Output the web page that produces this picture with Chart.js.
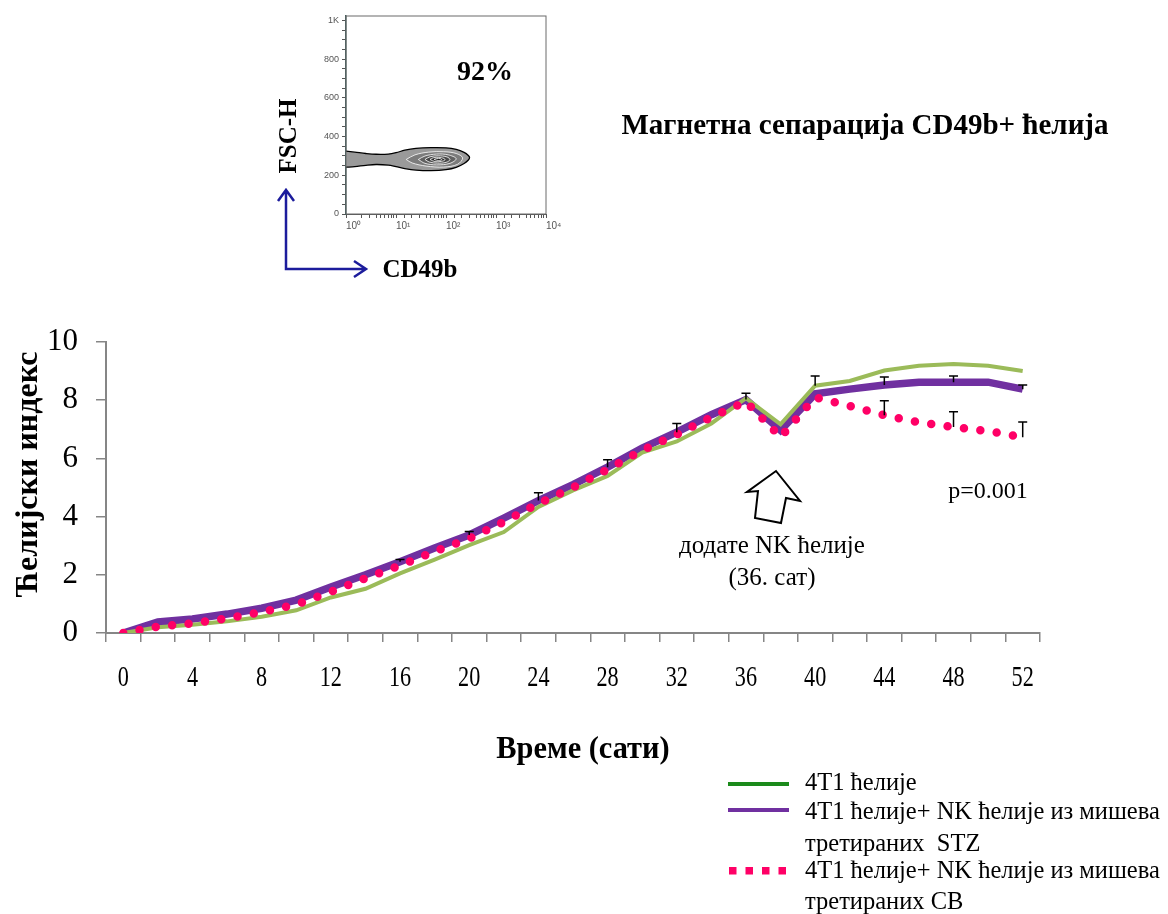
<!DOCTYPE html>
<html>
<head>
<meta charset="utf-8">
<script src="https://cdn.jsdelivr.net/npm/chart.js@4.4.1/dist/chart.umd.min.js"></script>
<style>
  html, body { margin: 0; padding: 0; background: #fff; }
  #wrap { position: relative; width: 1168px; height: 914px; }
  #main { position: absolute; left: 0; top: 0; }
  #inset { position: absolute; left: 290px; top: 0; }
</style>
</head>
<body>
<div id="wrap">
  <canvas id="main" width="1168" height="914"></canvas>
  <canvas id="inset" width="276" height="245"></canvas>
</div>
<script>
// time points (hours)
const hours = [0, 2, 4, 6, 8, 10, 12, 14, 16, 18, 20, 22, 24, 26, 28, 30, 32, 34, 36, 38, 40, 42, 44, 46, 48, 50, 52];

// cell index per series
const cells4T1 = [0, 0.2, 0.28, 0.4, 0.56, 0.78, 1.22, 1.52, 2.05, 2.52, 3.02, 3.47, 4.33, 4.9, 5.4, 6.2, 6.58, 7.2, 8.07, 7.17, 8.5, 8.66, 9.02, 9.18, 9.24, 9.18, 9.0];
const cellsSTZ = [0, 0.38, 0.48, 0.65, 0.85, 1.13, 1.58, 2.0, 2.45, 2.92, 3.37, 3.95, 4.55, 5.1, 5.7, 6.35, 6.9, 7.5, 8.02, 6.97, 8.22, 8.38, 8.52, 8.62, 8.62, 8.62, 8.38];
const cellsCB = [0, 0.22, 0.33, 0.5, 0.72, 0.98, 1.42, 1.88, 2.32, 2.8, 3.25, 3.82, 4.45, 5.0, 5.62, 6.28, 6.82, 7.42, 7.95, 6.73, 8.1, 7.8, 7.48, 7.24, 7.08, 6.94, 6.73];

// upper error bars (SD), null = none shown
const err4T1 = [null, null, null, null, null, null, null, null, null, null, null, null, null, null, null, null, null, null, null, null, 0.33, null, null, null, null, null, null];
const errSTZ = [null, null, null, null, null, null, null, null, 0.08, null, 0.12, null, 0.27, null, 0.25, null, 0.3, null, 0.22, null, null, null, 0.28, null, 0.21, null, 0.14];
const errCB = [null, null, null, null, null, null, null, null, null, null, null, null, null, null, null, null, null, null, null, null, null, null, 0.5, null, 0.52, null, 0.52];

const seriesNames = ['4T1 ћелије', '4T1 ћелије+ NK ћелије из мишева третираних  STZ', '4T1 ћелије+ NK ћелије из мишева третираних CB'];

// flow cytometry inset: contour outlines (CD49b, FSC-H)
const contourOuter = [[1, 325], [1.5, 320], [2.5, 313], [4, 309], [7, 310], [10, 317], [15, 330], [25, 339], [50, 343], [100, 342], [160, 334], [230, 319], [280, 303], [296, 292], [280, 279], [230, 261], [160, 241], [100, 229], [50, 224], [25, 227], [15, 235], [10, 245], [7, 253], [4, 256], [2.5, 252], [1.5, 245], [1, 242]];
const contourRing1 = [[16, 282], [24, 306], [45, 320], [90, 322], [160, 313], [215, 290], [170, 257], [90, 243], [40, 248], [21, 264], [16, 282]];
const contourRing2 = [[28, 282], [38, 300], [65, 310], [110, 306], [160, 286], [120, 262], [65, 254], [38, 262], [28, 282]];
const contourRing3 = [[38, 282], [48, 296], [70, 301], [105, 295], [120, 281], [100, 267], [68, 263], [46, 269], [38, 282]];
const contourRing4 = [[48, 282], [56, 291], [72, 293], [92, 287], [95, 279], [80, 272], [60, 271], [48, 282]];
const contourCore = [[58, 282], [65, 287], [78, 286], [82, 280], [70, 277], [58, 282]];

const serif = "'Liberation Serif', 'Times New Roman', serif";

const decorPlugin = {
  id: 'decor',
  afterDatasetsDraw(chart) {
    const ctx = chart.ctx;
    const xs = chart.scales.x, ys = chart.scales.y;
    ctx.save();
    ctx.strokeStyle = '#000';
    ctx.lineWidth = 1.5;
    chart.data.datasets.forEach(ds => {
      ds.err.forEach((e, i) => {
        if (e == null) return;
        const x = xs.getPixelForValue(i);
        const y0 = ys.getPixelForValue(ds.data[i]);
        const y1 = ys.getPixelForValue(ds.data[i] + e);
        ctx.beginPath();
        ctx.moveTo(x, y0); ctx.lineTo(x, y1);
        ctx.moveTo(x - 4.5, y1); ctx.lineTo(x + 4.5, y1);
        ctx.stroke();
      });
    });
    ctx.restore();
  },
  afterDraw(chart) {
    const ctx = chart.ctx;
    const xs = chart.scales.x;
    ctx.save();
    ctx.fillStyle = '#000';
    ctx.textBaseline = 'middle';

    // x tick labels, narrow serif
    ctx.font = '30px ' + serif;
    ctx.textAlign = 'center';
    hours.forEach((h, i) => {
      if (h % 4 !== 0) return;
      const x = xs.getPixelForTick(i);
      ctx.save();
      ctx.translate(x, 678);
      ctx.scale(0.74, 1);
      ctx.fillText(String(h), 0, 0);
      ctx.restore();
    });

    // axis titles
    ctx.font = 'bold 31px ' + serif;
    ctx.save();
    ctx.translate(583, 750);
    ctx.scale(0.98, 1);
    ctx.fillText('Време (сати)', 0, 0);
    ctx.restore();

    ctx.save();
    ctx.translate(29, 474);
    ctx.rotate(-Math.PI / 2);
    ctx.font = 'bold 32px ' + serif;
    ctx.fillText('Ћелијски индекс', 0, 0);
    ctx.restore();

    // header texts
    ctx.font = 'bold 29px ' + serif;
    ctx.fillText('Магнетна сепарација CD49b+ ћелија', 865, 127);
    ctx.font = 'bold 28px ' + serif;
    ctx.fillText('92%', 485, 73);
    ctx.font = 'bold 25px ' + serif;
    ctx.fillText('CD49b', 420, 271);
    ctx.save();
    ctx.translate(290, 136);
    ctx.rotate(-Math.PI / 2);
    ctx.fillText('FSC-H', 0, 0);
    ctx.restore();

    // blue axis arrows of the inset
    ctx.strokeStyle = '#1c1c9c';
    ctx.lineWidth = 2.5;
    ctx.lineJoin = 'miter';
    ctx.beginPath();
    ctx.moveTo(286, 190); ctx.lineTo(286, 269); ctx.lineTo(366, 269);
    ctx.moveTo(278, 201); ctx.lineTo(286, 190); ctx.lineTo(294, 201);
    ctx.moveTo(354, 261); ctx.lineTo(366, 269); ctx.lineTo(354, 277);
    ctx.stroke();

    // hollow arrow marking the NK addition
    ctx.strokeStyle = '#000';
    ctx.fillStyle = '#fff';
    ctx.lineWidth = 2;
    ctx.beginPath();
    ctx.moveTo(776, 471); ctx.lineTo(800, 501); ctx.lineTo(786, 498);
    ctx.lineTo(781, 523); ctx.lineTo(755, 518); ctx.lineTo(758, 491);
    ctx.lineTo(747, 492); ctx.closePath();
    ctx.fill(); ctx.stroke();

    ctx.fillStyle = '#000';
    ctx.font = '25px ' + serif;
    ctx.fillText('додате NK ћелије', 772, 546);
    ctx.fillText('(36. сат)', 772, 578);
    ctx.font = '24px ' + serif;
    ctx.fillText('p=0.001', 988, 492);

    // legend
    ctx.textAlign = 'left';
    ctx.font = '24.5px ' + serif;
    ctx.lineWidth = 4;
    ctx.strokeStyle = '#1b8a1b';
    ctx.beginPath(); ctx.moveTo(728, 784); ctx.lineTo(789, 784); ctx.stroke();
    ctx.fillText(seriesNames[0], 805, 784);
    ctx.strokeStyle = '#7030a0';
    ctx.beginPath(); ctx.moveTo(728, 810); ctx.lineTo(789, 810); ctx.stroke();
    ctx.fillText('4T1 ћелије+ NK ћелије из мишева', 805, 813);
    ctx.fillText('третираних  STZ', 805, 845);
    ctx.fillStyle = '#ff0066';
    for (let k = 0; k < 4; k++) ctx.fillRect(729 + k * 16.5, 867, 7.5, 7.5);
    ctx.fillStyle = '#000';
    ctx.fillText('4T1 ћелије+ NK ћелије из мишева', 805, 872);
    ctx.fillText('третираних CB', 805, 903);
    ctx.restore();
  }
};

new Chart(document.getElementById('main'), {
  type: 'line',
  data: {
    labels: hours.map(String),
    datasets: [
      { label: seriesNames[0], data: cells4T1, err: err4T1, borderColor: '#9bbb59', borderWidth: 4, order: 2 },
      { label: seriesNames[1], data: cellsSTZ, err: errSTZ, borderColor: '#7030a0', borderWidth: 7.5, order: 3 },
      { label: seriesNames[2], data: cellsCB, err: errCB, borderColor: '#ff0066', borderWidth: 8.5,
        borderDash: [0, 16.5], borderCapStyle: 'round', order: 1 }
    ]
  },
  options: {
    responsive: false,
    animation: false,
    layout: { padding: { left: 0, top: 342, right: 128, bottom: 221 } },
    elements: { point: { radius: 0 }, line: { tension: 0 } },
    plugins: { legend: { display: false }, tooltip: { enabled: false } },
    scales: {
      x: {
        offset: true,
        grid: { offset: true, drawOnChartArea: false, color: '#868686', tickLength: 9, lineWidth: 1.5 },
        border: { color: '#868686', width: 2 },
        ticks: { display: false, autoSkip: false },
        afterFit(s) { s.height = 60; }
      },
      y: {
        min: 0, max: 10,
        ticks: { stepSize: 2, color: '#000', padding: 18, font: { family: serif, size: 31 } },
        grid: { drawOnChartArea: false, color: '#868686', tickLength: 10, lineWidth: 1.5 },
        border: { color: '#868686', width: 2 },
        afterFit(s) { s.width = 106; }
      }
    }
  },
  plugins: [decorPlugin]
});

// ---- inset: CD49b vs FSC-H contour plot ----
const toPts = arr => arr.map(p => ({ x: p[0], y: p[1] }));
const ring = (pts, fill, border, w) => ({
  data: toPts(pts), showLine: true, fill: 'shape', backgroundColor: fill,
  borderColor: border, borderWidth: w, pointRadius: 0, tension: 0.35
});
const supDigits = ['⁰', '¹', '²', '³', '⁴'];

const boxPlugin = {
  id: 'box',
  afterDraw(chart) {
    const a = chart.chartArea, ctx = chart.ctx;
    ctx.save();
    ctx.strokeStyle = '#6a6a6a';
    ctx.lineWidth = 1;
    ctx.strokeRect(a.left, a.top, a.right - a.left, a.bottom - a.top);
    ctx.restore();
  }
};

new Chart(document.getElementById('inset'), {
  type: 'scatter',
  data: {
    datasets: [
      ring(contourCore, '#111111', '#ffffff', 0.8),
      ring(contourRing4, '#2e2e2e', '#ffffff', 0.8),
      ring(contourRing3, '#474747', '#ffffff', 0.8),
      ring(contourRing2, '#626262', '#ffffff', 0.8),
      ring(contourRing1, '#7c7c7c', '#ffffff', 0.8),
      ring(contourOuter, '#9a9a9a', '#000000', 1.3)
    ]
  },
  options: {
    responsive: false,
    animation: false,
    layout: { padding: { left: 0, top: 16, right: 20, bottom: 11 } },
    plugins: { legend: { display: false }, tooltip: { enabled: false } },
    scales: {
      x: {
        type: 'logarithmic', min: 1, max: 10000,
        grid: { drawOnChartArea: false, color: '#555', tickLength: 4 },
        border: { color: '#555' },
        ticks: {
          autoSkip: false, maxRotation: 0, align: 'start', padding: 2, color: '#555',
          font: { family: 'Arial, sans-serif', size: 10 },
          callback(v) {
            const e = Math.log10(v);
            return Number.isInteger(e) ? '10' + supDigits[e] : '';
          }
        },
        afterFit(s) { s.height = 20; }
      },
      y: {
        min: 0, max: 1024,
        grid: { drawOnChartArea: false, color: '#555', tickLength: 4 },
        border: { color: '#3c5a5a', width: 1.5 },
        afterBuildTicks(s) {
          const t = [];
          for (let v = 0; v <= 1000; v += 50) t.push({ value: v });
          s.ticks = t;
        },
        ticks: {
          autoSkip: false, color: '#555', padding: 3,
          font: { family: 'Arial, sans-serif', size: 9 },
          callback(v) { return v === 1000 ? '1K' : (v % 200 === 0 ? String(v) : ''); }
        },
        afterFit(s) { s.width = 56; }
      }
    }
  },
  plugins: [boxPlugin]
});
</script>
</body>
</html>
